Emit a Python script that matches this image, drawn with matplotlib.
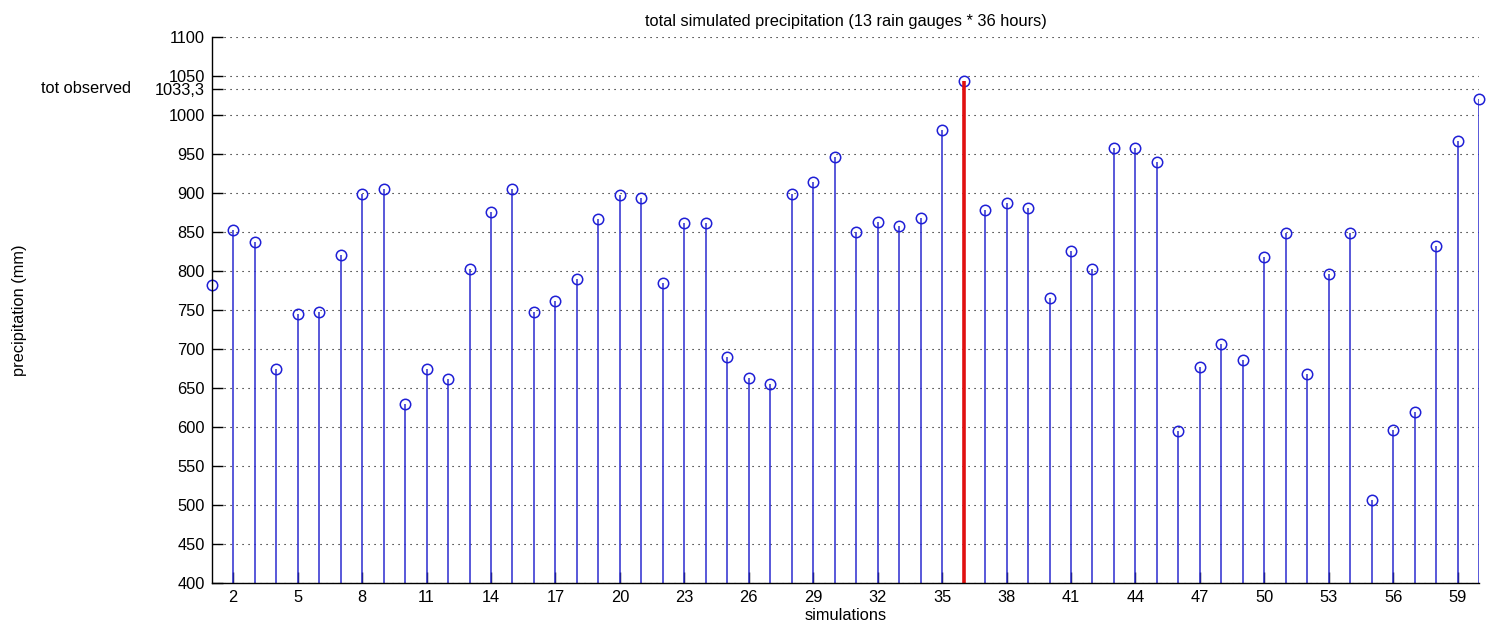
import numpy as np
import matplotlib
matplotlib.use('Agg')
import matplotlib.pyplot as plt
import matplotlib.transforms as mtransforms

plt.rcParams['font.family'] = ['Liberation Sans', 'DejaVu Sans']

# total simulated precipitation per simulation (mm)
simulations = np.arange(1, 61)
precip = [782, 852, 837, 674, 745, 747, 821, 899, 905, 630,
          675, 661, 802, 875, 905, 747, 762, 790, 867, 897,
          893, 784, 862, 862, 690, 663, 655, 899, 914, 946,
          850, 863, 857, 868, 981, 1043, 878, 887, 881, 765,
          826, 802, 957, 958, 939, 595, 677, 707, 686, 818,
          848, 668, 796, 849, 507, 596, 619, 832, 967, 1020]
best_sim = 36
tot_observed = 1033.3

xticks = list(range(2, 60, 3))
yticks = list(range(400, 1101, 50)) + [tot_observed]

fs = 11.8

fig = plt.figure(figsize=(14.87, 6.27), dpi=100)
ax = fig.add_axes([0.1424, 0.0697, 0.8523, 0.8718])

markers, stems, base = ax.stem(simulations, precip, linefmt='-', markerfmt='o', basefmt=' ', bottom=0)
stems.set_color('#2b2bd0')
stems.set_linewidth(1.1)
markers.set_markerfacecolor('none')
markers.set_markeredgecolor('#1f1fd6')
markers.set_markersize(7.5)
markers.set_markeredgewidth(1.1)
markers.set_clip_on(False)

# highlight the simulation closest to the observed total
ax.vlines(best_sim, 0, precip[best_sim - 1], color='#e01010', linewidth=2.6, zorder=2.5)

ax.set_xlim(1, 60)
ax.set_ylim(400, 1100)
ax.set_xticks(xticks)
ax.set_yticks(yticks)
ax.set_yticklabels([str(v) if v != tot_observed else '1033,3' for v in yticks])
ax.tick_params(direction='in', length=8, width=1, labelsize=fs, pad=5, colors='black')
ax.grid(axis='y', color='black', linestyle=(0, (1, 4.4)), linewidth=0.8)
ax.set_axisbelow(True)

for s in ['top', 'right']:
    ax.spines[s].set_visible(False)
for s in ['left', 'bottom']:
    ax.spines[s].set_linewidth(1)

trans = mtransforms.blended_transform_factory(ax.transAxes, ax.transData)
ax.text(-0.1347, tot_observed, 'tot observed', transform=trans, fontsize=fs, ha='left', va='center')

ax.set_title('total simulated precipitation (13 rain gauges * 36 hours)', fontsize=fs, pad=8)
ax.set_xlabel('simulations', fontsize=fs, labelpad=2)
ax.set_ylabel('precipitation (mm)', fontsize=fs)
ax.yaxis.set_label_coords(-0.1457, 0.5)

fig.savefig('out.png', dpi=100)
